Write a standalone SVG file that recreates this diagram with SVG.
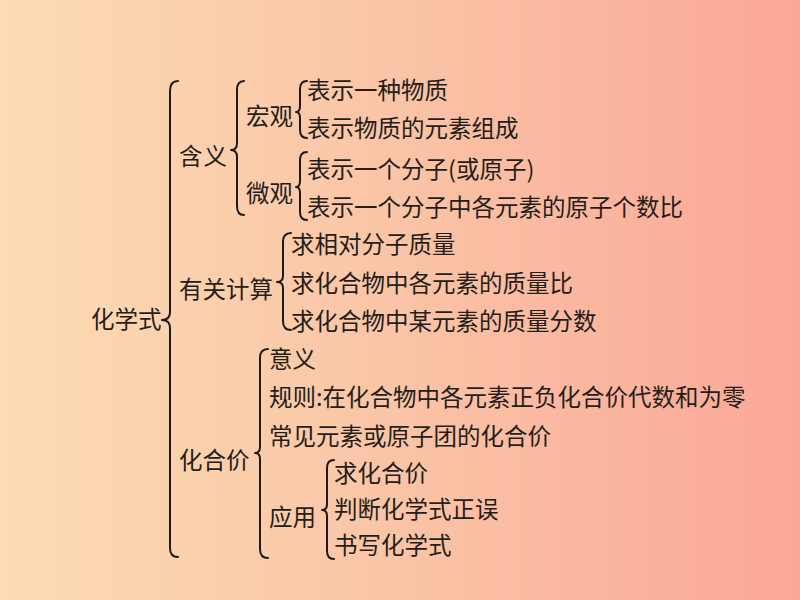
<svg xmlns="http://www.w3.org/2000/svg" width="800" height="600" viewBox="0 0 800 600">
<defs>
<linearGradient id="bg" x1="0" y1="0" x2="1" y2="0">
<stop offset="0" stop-color="#fcdcb4"/>
<stop offset="0.5" stop-color="#fac4a6"/>
<stop offset="1" stop-color="#fba797"/>
</linearGradient>
<style>
text{font-family:"Noto Sans CJK SC","Noto Sans",sans-serif;font-size:23.5px;fill:#241e1b;}
.b{fill:none;stroke:#1e1a18;stroke-width:2;stroke-linecap:round;stroke-linejoin:round;}
</style>
</defs>
<rect width="800" height="600" fill="url(#bg)"/>
<g id="connectors">
<path class="b" d="M178,81 Q170,81 170,91 L170,312 Q170,320 162,320 Q170,320 170,328 L170,548 Q170,557 178,557"/>
<path class="b" d="M244,81 Q237,81 237,90 L237,143 Q237,150 231,150 Q237,150 237,157 L237,206 Q237,215 244,215"/>
<path class="b" d="M307,81 Q300,81 300,89 L300,106 Q300,112 296,112 Q300,112 300,118 L300,130 Q300,138 307,138"/>
<path class="b" d="M307,152 Q300,152 300,160 L300,181 Q300,187 296,187 Q300,187 300,193 L300,212 Q300,220 307,220"/>
<path class="b" d="M291,233 Q283,233 283,242 L283,276 Q283,282 277,282 Q283,282 283,288 L283,321 Q283,330 291,330"/>
<path class="b" d="M268,349 Q260,349 260,358 L260,447 Q260,453 255,453 Q260,453 260,459 L260,549 Q260,558 268,558"/>
<path class="b" d="M334,460 Q327,460 327,468 L327,504 Q327,510 322,510 Q327,510 327,516 L327,551 Q327,559 334,559"/>
</g>
<g id="n-huaxueshi"><text x="91" y="328">化学式</text></g>
<g id="n-hanyi"><text x="179" y="165" letter-spacing="1">含义</text></g>
<g id="n-hongguan"><text x="246" y="125">宏观</text></g>
<g id="n-hg1"><text x="307" y="99">表示一种物质</text></g>
<g id="n-hg2"><text x="307" y="137">表示物质的元素组成</text></g>
<g id="n-weiguan"><text x="246" y="202">微观</text></g>
<g id="n-wg1"><text x="307" y="178">表示一个分子(或原子)</text></g>
<g id="n-wg2"><text x="307" y="216">表示一个分子中各元素的原子个数比</text></g>
<g id="n-jisuan"><text x="179" y="298">有关计算</text></g>
<g id="n-js1"><text x="291" y="253">求相对分子质量</text></g>
<g id="n-js2"><text x="291" y="292">求化合物中各元素的质量比</text></g>
<g id="n-js3"><text x="291" y="330">求化合物中某元素的质量分数</text></g>
<g id="n-huahejia"><text x="179" y="469">化合价</text></g>
<g id="n-yiyi"><text x="269" y="368">意义</text></g>
<g id="n-guize"><text x="269" y="406">规则:在化合物中各元素正负化合价代数和为零</text></g>
<g id="n-changjian"><text x="269" y="445">常见元素或原子团的化合价</text></g>
<g id="n-yingyong"><text x="269" y="526">应用</text></g>
<g id="n-yy1"><text x="334" y="482">求化合价</text></g>
<g id="n-yy2"><text x="334" y="518">判断化学式正误</text></g>
<g id="n-yy3"><text x="334" y="554">书写化学式</text></g>
</svg>
